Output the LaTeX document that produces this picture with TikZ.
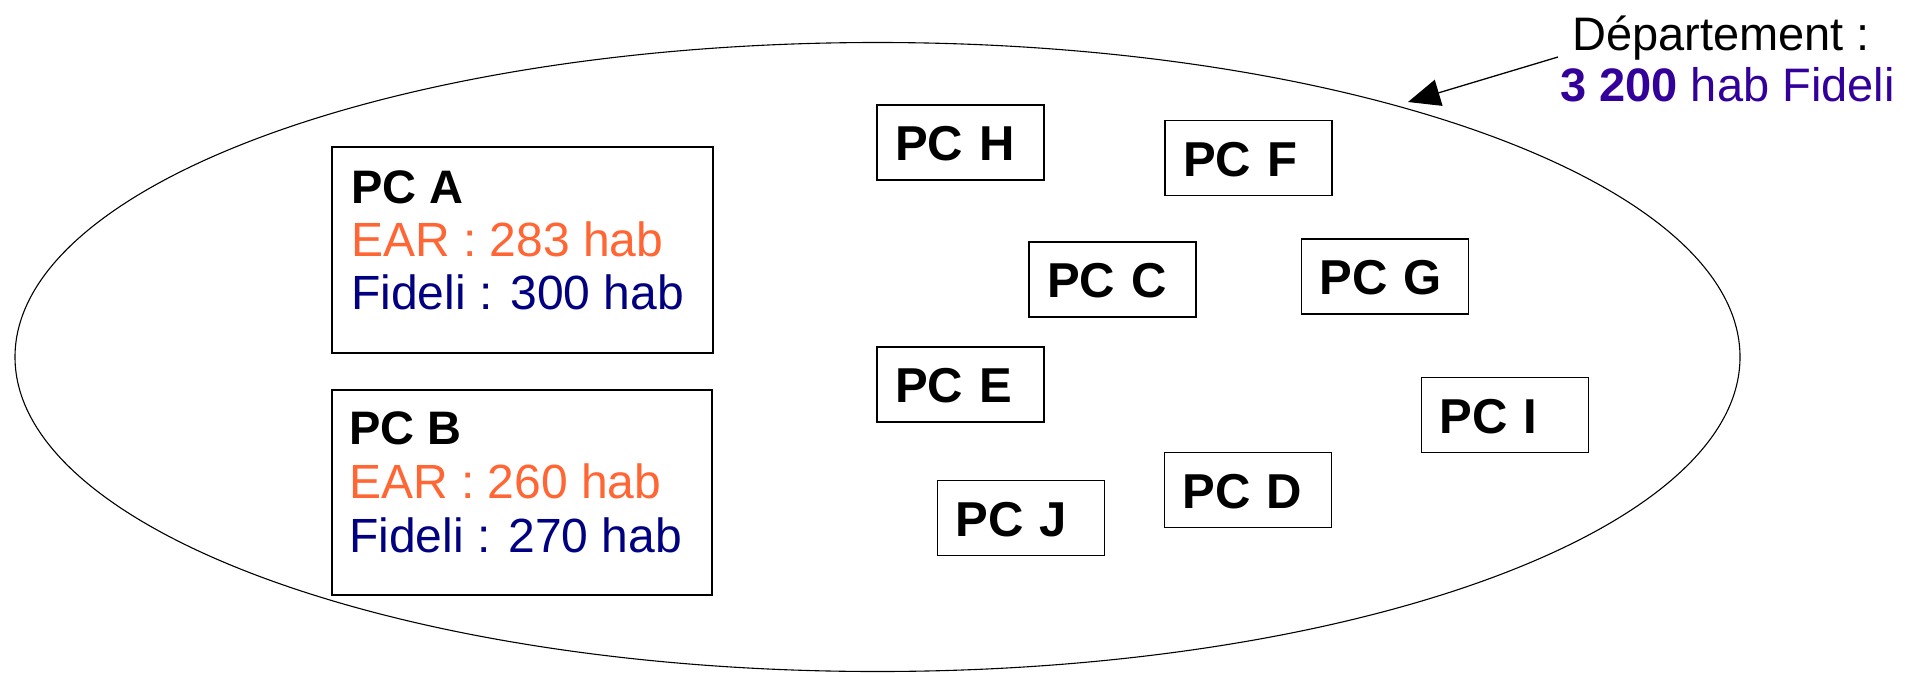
\documentclass[tikz,border=0pt]{standalone}
\usepackage{fontspec}
\setmainfont{Liberation Sans}
\usetikzlibrary{shapes.geometric,arrows.meta}
\definecolor{earc}{HTML}{FF6633}
\definecolor{fidc}{HTML}{000080}
\definecolor{depc}{HTML}{330099}
\tikzset{
  pcbox/.style={draw, line width=1.3pt, minimum width=167pt, minimum height=75pt,
    inner ysep=0pt, inner xsep=18pt, text width=131pt, align=left,
    text height=36.4pt, text depth=0pt, font=\bfseries\fontsize{49}{55}\selectfont},
  bigbox/.style={draw, line width=1.3pt, inner sep=0pt},
  ttl/.style={anchor=base west, inner sep=0pt, font=\bfseries\fontsize{47}{53}\selectfont},
  line/.style={anchor=base west, inner sep=0pt, font=\fontsize{48}{53}\selectfont},
  deptxt/.style={anchor=base west, inner sep=0pt, font=\fontsize{47}{53}\selectfont},
}
\begin{document}
\begin{tikzpicture}[x=1pt,y=-1pt]
\useasboundingbox (0,0) rectangle (1905,672);
\fill[white] (0,0) rectangle (1905,672);
% department ellipse
\node[draw, ellipse, line width=1.1pt, minimum width=1725pt, minimum height=629pt, inner sep=0pt] (dept) at (877.5,357) {};
% PC A
\node[bigbox, minimum width=381pt, minimum height=206pt] (A) at (522.5,250) {};
\node[ttl] (a1) at (351,203) {PC A};
\node[line, text=earc] (a2) at (351,256) {EAR : 283 hab};
\node[line, text=fidc] (a3) at (351,309) {Fideli : 300 hab};
% PC B
\node[bigbox, minimum width=380pt, minimum height=205pt] (B) at (522,492.5) {};
\node[ttl] (b1) at (349,444) {PC B};
\node[line, text=earc] (b2) at (349,498) {EAR : 260 hab};
\node[line, text=fidc] (b3) at (349,552) {Fideli : 270 hab};
% small PC boxes
\node[pcbox] (H) at (960.5,142.5) {PC H};
\node[pcbox] (F) at (1248.5,158) {PC F};
\node[pcbox] (C) at (1112.5,279.5) {PC C};
\node[pcbox] (G) at (1385,276.5) {PC G};
\node[pcbox] (E) at (960.5,384.5) {PC E};
\node[pcbox] (I) at (1505,415) {PC I};
\node[pcbox] (J) at (1021,518) {PC J};
\node[pcbox] (D) at (1248,490) {PC D};
% department label
\node[deptxt] (dl1) at (1572,50) {Département :};
\node[deptxt, text=depc] (dl2) at (1560,101) {\textbf{3 200} hab Fideli};
\coordinate (arrs) at (1558,57);
\coordinate (arrt) at (1408,102);
\draw[line width=1.3pt, -{Triangle[length=32pt,width=27pt]}] (arrs) -- (arrt);
\end{tikzpicture}
\end{document}
